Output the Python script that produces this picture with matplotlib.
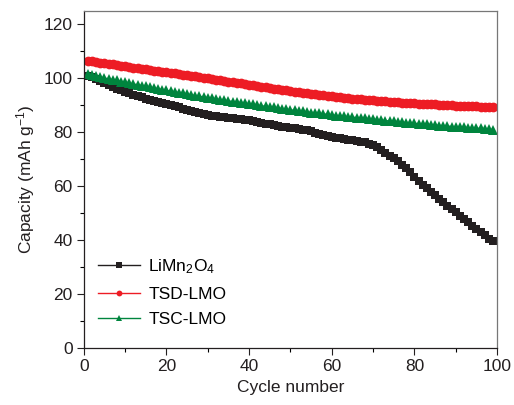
import matplotlib
matplotlib.use("Agg")
import matplotlib.pyplot as plt
from matplotlib.ticker import MultipleLocator

plt.rcParams['font.family'] = ['Liberation Sans', 'DejaVu Sans']
plt.rcParams['mathtext.fontset'] = 'custom'
plt.rcParams['mathtext.rm'] = 'Liberation Sans'
plt.rcParams['mathtext.it'] = 'Liberation Sans:italic'

cycles = list(range(1, 100))

limn2o4 = [101.0, 100.6, 99.7, 99.0, 98.3, 97.6, 96.9, 96.2, 95.6, 95.0,
           94.4, 93.9, 93.4, 92.9, 92.5, 92.1, 91.6, 91.2, 90.8, 90.4,
           90.0, 89.6, 89.2, 88.8, 88.4, 88.0, 87.6, 87.2, 86.8, 86.5,
           86.2, 86.0, 85.8, 85.6, 85.4, 85.2, 85.0, 84.8, 84.6, 84.4,
           84.1, 83.8, 83.5, 83.2, 82.9, 82.6, 82.3, 82.0, 81.8, 81.6,
           81.4, 81.2, 81.0, 80.8, 80.5, 79.8, 79.2, 78.9, 78.6, 78.3,
           78.0, 77.7, 77.4, 77.2, 77.0, 76.8, 76.5, 76.2, 75.8, 75.2,
           74.4, 73.4, 72.3, 71.3, 70.3, 69.2, 68.0, 66.6, 65.1, 63.5,
           62.0, 60.6, 59.2, 57.9, 56.6, 55.3, 54.0, 52.8, 51.6, 50.4,
           49.1, 47.9, 46.6, 45.4, 44.2, 43.0, 41.7, 40.5, 39.5]

tsd_lmo = [106.5, 106.3, 106.0, 105.8, 105.6, 105.4, 105.2, 104.9, 104.7, 104.5,
           104.3, 104.0, 103.8, 103.6, 103.4, 103.2, 102.9, 102.7, 102.5, 102.3,
           102.0, 101.8, 101.6, 101.3, 101.1, 100.9, 100.7, 100.4, 100.2, 100.0,
           99.8, 99.5, 99.3, 99.0, 98.8, 98.6, 98.3, 98.1, 97.8, 97.6,
           97.4, 97.1, 96.9, 96.7, 96.4, 96.2, 96.0, 95.7, 95.5, 95.3,
           95.1, 94.9, 94.7, 94.5, 94.3, 94.1, 93.9, 93.7, 93.5, 93.3,
           93.1, 93.0, 92.8, 92.7, 92.5, 92.4, 92.2, 92.1, 91.9, 91.8,
           91.7, 91.6, 91.5, 91.4, 91.2, 91.1, 91.0, 90.9, 90.8, 90.7,
           90.6, 90.5, 90.4, 90.4, 90.3, 90.2, 90.1, 90.0, 90.0, 89.9,
           89.8, 89.8, 89.7, 89.6, 89.6, 89.5, 89.4, 89.4, 89.3]

tsc_lmo = [101.5, 101.2, 100.8, 100.5, 100.1, 99.8, 99.5, 99.2, 98.8, 98.5,
           98.2, 97.9, 97.6, 97.3, 97.0, 96.7, 96.4, 96.1, 95.8, 95.5,
           95.2, 94.9, 94.7, 94.4, 94.1, 93.8, 93.6, 93.3, 93.1, 92.8,
           92.6, 92.3, 92.1, 91.8, 91.6, 91.4, 91.2, 90.9, 90.7, 90.5,
           90.3, 90.0, 89.8, 89.6, 89.4, 89.2, 89.0, 88.7, 88.5, 88.3,
           88.1, 87.9, 87.7, 87.5, 87.3, 87.2, 87.0, 86.8, 86.6, 86.4,
           86.2, 86.1, 85.9, 85.7, 85.6, 85.4, 85.3, 85.1, 85.0, 84.8,
           84.6, 84.5, 84.3, 84.2, 84.0, 83.9, 83.7, 83.6, 83.4, 83.3,
           83.2, 83.0, 82.9, 82.8, 82.6, 82.5, 82.4, 82.3, 82.1, 82.0,
           81.9, 81.8, 81.7, 81.6, 81.5, 81.4, 81.3, 81.1, 81.0]

labels = ['LiMn$_2$O$_4$', 'TSD-LMO', 'TSC-LMO']
colors = ['#231f20', '#ed1c24', '#00853e']
markers = ['s', 'o', '^']

fig = plt.figure(figsize=(5.14, 4.05), dpi=100)
ax = fig.add_axes([0.163, 0.141, 0.804, 0.832])

series = [limn2o4, tsd_lmo, tsc_lmo]
sizes = [6.2, 7.0, 7.0]
for vals, lab, c, m, s in zip(series, labels, colors, markers, sizes):
    ax.plot(cycles, vals, color=c, marker=m, markersize=s, linewidth=1.0,
            markeredgewidth=0, label=lab)

ax.set_xlim(0, 100)
ax.set_ylim(0, 125)
ax.xaxis.set_major_locator(MultipleLocator(20))
ax.xaxis.set_minor_locator(MultipleLocator(10))
ax.yaxis.set_major_locator(MultipleLocator(20))
ax.yaxis.set_minor_locator(MultipleLocator(10))
ax.set_yticks([0, 20, 40, 60, 80, 100, 120])
ax.tick_params(which='major', direction='out', length=5, width=0.8,
               labelsize=12.5, colors='#231f20', top=False, right=False, pad=3)
ax.tick_params(which='minor', direction='out', length=3, width=0.8,
               top=False, right=False)
for side in ['left', 'bottom']:
    ax.spines[side].set_color('#231f20')
    ax.spines[side].set_linewidth(0.9)
for side in ['top', 'right']:
    ax.spines[side].set_color('#777777')
    ax.spines[side].set_linewidth(0.9)

ax.set_xlabel('Cycle number', fontsize=12.5, color='#231f20', labelpad=4)
ax.set_ylabel('Capacity (mAh g$^{-1}$)', fontsize=12.5, color='#231f20', labelpad=5)

leg = ax.legend(loc='lower left', bbox_to_anchor=(0.005, 0.025), frameon=False,
                fontsize=12.5, handlelength=2.4, handletextpad=0.5,
                markerscale=0.6, labelspacing=0.6, borderaxespad=0.3)

fig.savefig('out.png', dpi=100)
